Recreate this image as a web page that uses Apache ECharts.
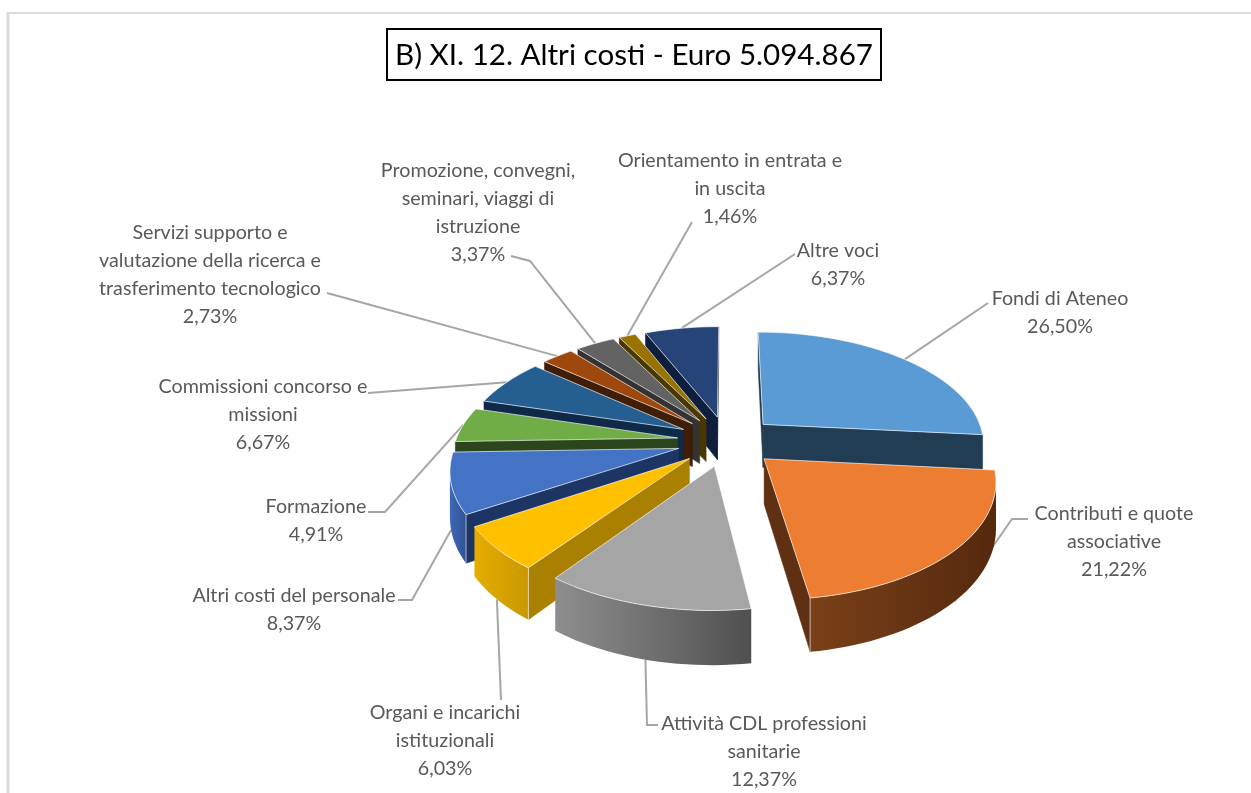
<!DOCTYPE html>
<html>
<head>
<meta charset="utf-8">
<script src="https://cdn.jsdelivr.net/npm/echarts@6/dist/echarts.min.js"></script>
<style>
  html, body { margin: 0; padding: 0; background: #fff; }
  #chart { width: 1251px; height: 793px; }
</style>
</head>
<body>
<div id="chart"></div>
<script>
// dati
const titleText = 'B) XI. 12. Altri costi - Euro 5.094.867';
const categories = [
  'Fondi di Ateneo',
  'Contributi e quote\nassociative',
  'Attività CDL professioni\nsanitarie',
  'Organi e incarichi\nistituzionali',
  'Altri costi del personale',
  'Formazione',
  'Commissioni concorso e\nmissioni',
  'Servizi supporto e\nvalutazione della ricerca e\ntrasferimento tecnologico',
  'Promozione, convegni,\nseminari, viaggi di\nistruzione',
  'Orientamento in entrata e\nin uscita',
  'Altre voci'
];
const values = [26.50, 21.22, 12.37, 6.03, 8.37, 4.91, 6.67, 2.73, 3.37, 1.46, 6.37];

// colori: faccia superiore, taglio, parete esterna (sx, dx)
const topColors = ['#5b9bd5', '#ed7d31', '#a5a5a5', '#ffc000', '#4472c4', '#70ad47', '#255e91', '#9e480e', '#636363', '#997300', '#264478'];
const cutColors = ['#213d54', '#5f3112', '#5c5c5c', '#a98000', '#1d3565', '#2b461c', '#0f2a48', '#3f1d06', '#333333', '#4a3800', '#0e1f3e'];
const wallColors = [
  ['#213d54', '#213d54'], ['#7a4018', '#55290e'], ['#8e8e8e', '#505050'], ['#e6ad00', '#c99800'],
  ['#3f69b4', '#2f5295'], ['#2b461c', '#2b461c'], ['#0f2a48', '#0f2a48'], ['#3f1d06', '#3f1d06'],
  ['#333333', '#333333'], ['#4a3800', '#4a3800'], ['#0e1f3e', '#0e1f3e']
];

// posizione delle etichette (centro, prima riga) e gomito del richiamo
const labelAt = [[1060, 299], [1114, 514], [764, 724], [445, 713], [294, 596], [316, 507], [263, 387], [210, 233], [478, 171], [730, 161], [838, 251]];
const leaderFrom = [
  [[988, 303]],
  [[1028, 519], [1012, 519]],
  [[658, 725], [647, 725]],
  [[501, 700]],
  [[398, 600], [412, 600]],
  [[368, 512], [385, 512]],
  [[368, 393]],
  [[327, 293]],
  [[511, 256], [530, 261]],
  [[692, 222]],
  [[795, 254]]
];

// proiezione della torta
const cx = 727, cy = 441, rx = 222, ry = 112, persp = 0.16, explode = 0.225, depth = 44;

function project(u, v, z) {
  const s = 1 / (1 - persp * v);
  return [cx + rx * u * s, cy + ry * v * s + depth * z * s];
}
function polar(deg, r) {
  const a = deg * Math.PI / 180;
  return [Math.sin(a) * r, -Math.cos(a) * r];
}

const total = values.reduce(function (a, b) { return a + b; }, 0);
const slices = [];
let run = 0;
values.forEach(function (val) {
  const a0 = run / total * 360;
  run += val;
  slices.push({ a0: a0, a1: run / total * 360, mid: (a0 + run / total * 360) / 2 });
});

function quad(p, q, fill, order) {
  return {
    type: 'polygon',
    z2: order,
    shape: { points: [project(p[0], p[1], 0), project(q[0], q[1], 0), project(q[0], q[1], 1), project(p[0], p[1], 1)] },
    style: { fill: fill, stroke: fill, lineWidth: 0.5 }
  };
}

function cornerLine(p, order) {
  return {
    type: 'line',
    z2: order,
    shape: {
      x1: project(p[0], p[1], 0)[0], y1: project(p[0], p[1], 0)[1],
      x2: project(p[0], p[1], 1)[0], y2: project(p[0], p[1], 1)[1]
    },
    style: { stroke: 'rgba(255,255,255,0.6)', lineWidth: 1 }
  };
}

function sliceItem(params, api) {
  const i = params.dataIndex;
  const sl = slices[i];
  const off = polar(sl.mid, explode);
  const pt = function (deg, r) {
    const p = polar(deg, r);
    return [p[0] + off[0], p[1] + off[1]];
  };
  const arc = [];
  const steps = Math.max(4, Math.ceil((sl.a1 - sl.a0) / 2));
  for (let k = 0; k <= steps; k++) {
    arc.push(pt(sl.a0 + (sl.a1 - sl.a0) * k / steps, 1));
  }
  const apex = off;
  const midV = pt(sl.mid, 0.6)[1];
  const base = 100 + Math.round((midV + 2) * 100) * 10;
  const kids = [];

  // parete esterna
  const wallTop = [];
  for (let k = 0; k < steps; k++) {
    if (project(arc[k + 1][0], arc[k + 1][1], 0)[0] < project(arc[k][0], arc[k][1], 0)[0]) {
      wallTop.push(arc[k], arc[k + 1]);
    }
  }
  if (wallTop.length) {
    const pts = wallTop.map(function (p) { return project(p[0], p[1], 0); });
    wallTop.slice().reverse().forEach(function (p) { pts.push(project(p[0], p[1], 1)); });
    kids.push({
      type: 'polygon',
      z2: base + 1,
      shape: { points: pts },
      style: {
        fill: {
          type: 'linear', x: 0, y: 0, x2: 1, y2: 0,
          colorStops: [{ offset: 0, color: wallColors[i][0] }, { offset: 1, color: wallColors[i][1] }]
        }
      }
    });
  }

  // tagli: visibili solo se il bordo va da destra a sinistra sullo schermo
  if (project(arc[0][0], arc[0][1], 0)[0] < project(apex[0], apex[1], 0)[0]) {
    kids.push(quad(apex, arc[0], cutColors[i], base));
    if (wallTop.length && i < 6) kids.push(cornerLine(arc[0], base + 2));
  }
  if (project(apex[0], apex[1], 0)[0] < project(arc[steps][0], arc[steps][1], 0)[0]) {
    kids.push(quad(arc[steps], apex, cutColors[i], base));
    if (wallTop.length && i < 6) kids.push(cornerLine(arc[steps], base + 2));
  }

  // faccia superiore
  const face = [project(apex[0], apex[1], 0)];
  arc.forEach(function (p) { face.push(project(p[0], p[1], 0)); });
  kids.push({
    type: 'polygon',
    z2: base + 3,
    shape: { points: face },
    style: { fill: topColors[i], stroke: 'rgba(255,255,255,0.65)', lineWidth: 1 }
  });

  // richiamo: finisce sul bordo esterno, al piede della parete per le fette davanti
  const end = pt(sl.mid, 1);
  const tip = project(end[0], end[1], end[1] > 0 ? 1 : 0);
  kids.push({
    type: 'polyline',
    z2: 1,
    shape: { points: leaderFrom[i].concat([tip]) },
    style: { fill: null, stroke: '#a6a6a6', lineWidth: 2 }
  });

  // etichetta
  const pct = api.value(1).toFixed(2).replace('.', ',');
  const lines = categories[i].split('\n').concat(pct + '%');
  lines.forEach(function (txt, n) {
    kids.push({
      type: 'text',
      z2: 5000,
      style: {
        x: labelAt[i][0],
        y: labelAt[i][1] + n * 28,
        text: txt,
        fill: '#595959',
        font: '19.7px Lato',
        align: 'center',
        verticalAlign: 'middle'
      }
    });
  });

  return { type: 'group', children: kids };
}

const chart = echarts.init(document.getElementById('chart'), null, { renderer: 'canvas' });
chart.setOption({
  backgroundColor: '#ffffff',
  animation: false,
  title: {
    text: titleText,
    left: 387,
    top: 29,
    padding: [11, 8, 10, 8],
    borderColor: '#000000',
    borderWidth: 2,
    textStyle: { fontFamily: 'Lato', fontSize: 29.6, fontWeight: 'normal', color: '#000000' }
  },
  graphic: [
    { type: 'line', shape: { x1: 8, y1: 12, x2: 8, y2: 793 }, style: { stroke: '#dcdcdc', lineWidth: 3 }, silent: true, z: -1 },
    { type: 'line', shape: { x1: 7, y1: 13, x2: 1251, y2: 13 }, style: { stroke: '#dcdcdc', lineWidth: 2 }, silent: true, z: -1 }
  ],
  series: [{
    type: 'custom',
    coordinateSystem: 'none',
    silent: true,
    renderItem: sliceItem,
    data: values.map(function (v, i) { return [i, v]; })
  }]
});
</script>
</body>
</html>
